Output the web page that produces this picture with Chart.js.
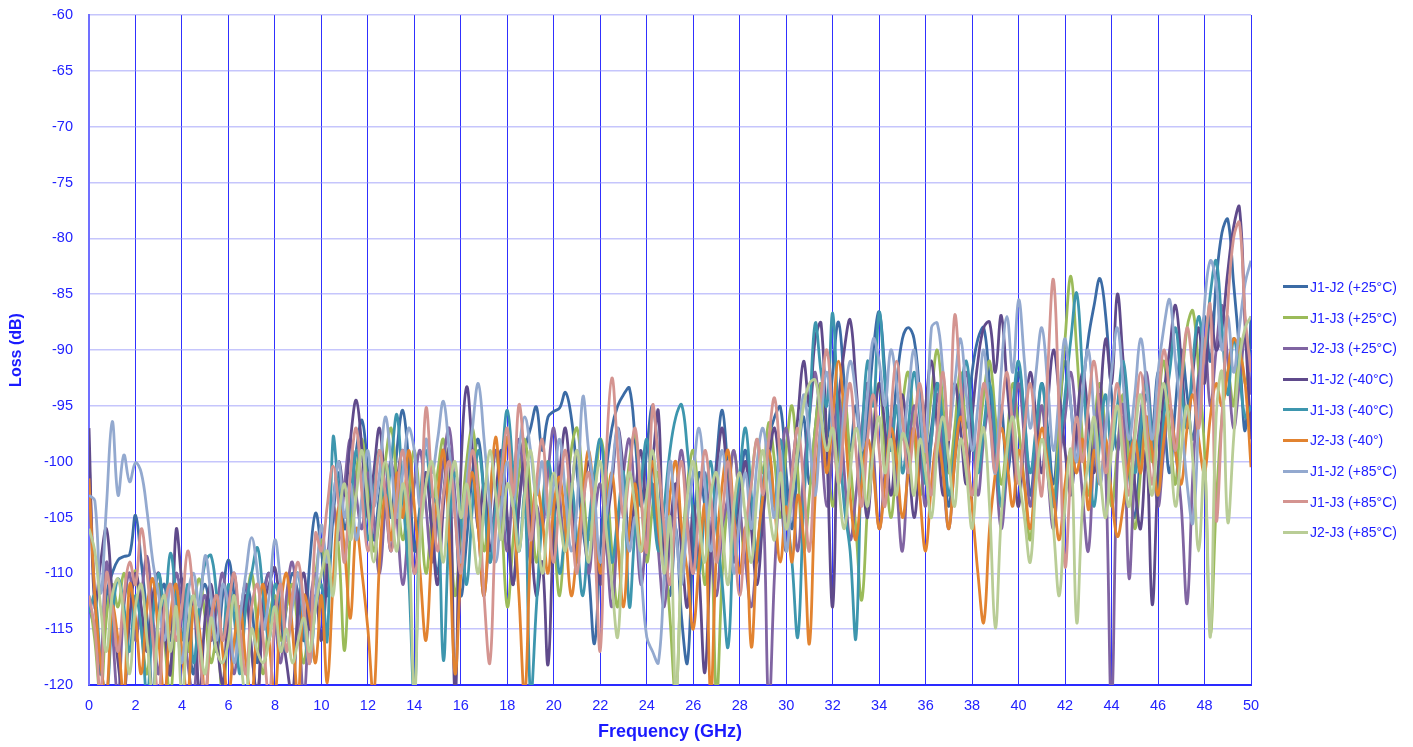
<!DOCTYPE html>
<html>
<head>
<meta charset="utf-8">
<title>Loss vs Frequency</title>
<script src="https://cdn.jsdelivr.net/npm/chart.js@4.4.1/dist/chart.umd.min.js"></script>
<style>
  html, body { margin: 0; padding: 0; background: #fff; }
  #wrap { position: relative; width: 1413px; height: 747px; }
  #legend { position: absolute; left: 1283px; top: 271.6px; font: 14px 'Liberation Sans', Arial, sans-serif; color: #2020ff; }
  #legend .item { height: 30.7px; display: flex; align-items: center; white-space: nowrap; }
  #legend .swatch { width: 25px; height: 3px; margin-right: 2px; }
</style>
</head>
<body>
<div id="wrap">
  <canvas id="lossChart" width="1413" height="747"></canvas>
  <div id="legend"></div>
</div>
<script>
// sweep points, 0.25 GHz apart
var freqs = []
for (var k = 0; k <= 200; k++) freqs.push(k * 0.25)

var seriesNames = ['J1-J2 (+25°C)', 'J1-J3 (+25°C)', 'J2-J3 (+25°C)', 'J1-J2 (-40°C)', 'J1-J3 (-40°C)', 'J2-J3 (-40°)', 'J1-J2 (+85°C)', 'J1-J3 (+85°C)', 'J2-J3 (+85°C)']
var seriesColors = ['#3b6ba5', '#9bbb59', '#8064a2', '#5f4a8b', '#3d96ae', '#e28330', '#93a9cf', '#d49490', '#b9cd96']

var j1j2_25 = [
  -113, -115, -119, -112, -110, -108.8, -108.5, -108.3, -104.8, -109, -114, -121, -113, -111, -116, -112, -110.5, -115, -119, -113,
  -111, -114, -117, -112, -108.8, -112, -115, -111, -113, -118, -112, -110, -114, -117, -113, -110, -112, -116, -109, -104.6,
  -108, -112, -105, -101, -106, -103, -99, -96.3, -101, -107, -103, -100, -105, -99, -95.4, -100, -108, -104, -101, -106,
  -110, -103, -99, -104, -112, -107, -101, -98, -103, -109, -104, -100, -106, -111, -104, -99, -97, -95.1, -99, -96,
  -95.5, -95.2, -93.8, -96, -101, -106, -110, -116.3, -108, -101, -97, -95, -94, -93.4, -98, -104, -99, -95, -100, -108,
  -112, -106, -114, -118, -107, -101, -104, -108, -100, -95.4, -101, -106, -102, -99, -104, -109, -103, -98, -96, -95.1,
  -101, -106, -100, -96, -102, -97, -93, -98, -92, -87.5, -93, -99, -95, -100, -96, -90, -86.6, -92, -98, -93,
  -89, -88, -89, -94, -100, -97, -93, -99, -104, -98, -94, -97, -92, -89, -88, -93, -99, -95, -101, -97,
  -92, -96, -103, -98, -93, -97, -102, -96, -91, -95, -100, -94, -89, -86, -83.6, -87, -94, -99, -96, -101,
  -105, -99, -94, -97, -92, -96, -101, -95, -90, -94, -98, -92, -87, -91, -84, -79.5, -78.3, -84, -90, -97.2,
  -87
]
var j1j3_25 = [
  -112, -116, -121, -114, -111, -113, -110, -112, -109.8, -115, -119, -113, -111, -116, -121, -114, -112, -117, -113, -110.5,
  -114, -118, -116, -121, -115, -112, -117, -113, -110, -115, -119, -114, -112, -116, -113, -111, -115, -118, -113, -110,
  -107, -111, -104, -108, -116.9, -106, -101, -98, -103, -108, -105, -100, -97, -102, -107, -103, -99, -104, -110, -105,
  -101, -98, -104, -112, -106, -100, -97, -102, -108, -103, -99, -105, -113, -107, -101, -98, -103, -109, -104, -100,
  -106, -112, -105, -99, -97, -102, -107, -103, -98, -101, -108, -113, -106, -100, -97.5, -103, -109, -104, -101, -107,
  -114, -121, -109, -102, -99, -104, -111, -106, -121, -110, -103, -99, -104, -109, -102, -98, -101, -96.5, -100, -105,
  -99, -95, -101, -108, -103, -97, -93, -98, -104, -99, -94, -100, -106, -112.4, -104, -97, -93, -99, -105, -100,
  -95, -92, -97, -103, -99, -94, -90, -95, -101, -97, -92, -98, -103, -99, -94, -91, -96, -102, -98, -93,
  -97, -102, -107, -100, -95, -99, -104, -96, -89, -83.4, -90, -98, -103, -97, -93, -98, -104, -99, -94, -100,
  -106, -101, -96, -100, -95, -91, -97, -102, -94, -88, -86.5, -92, -99, -115.3, -104, -96, -92, -95, -89, -93,
  -91
]
var j2j3_25 = [
  -99.5, -112, -118, -109, -115, -121, -113, -110, -116, -112, -108.5, -114, -119, -112, -115, -110, -113, -118, -121, -114,
  -112, -116, -113, -110, -115, -119, -114, -111, -117, -121, -113, -110, -114, -118, -112, -109, -114, -121, -113, -110,
  -113, -109, -104, -107, -102, -98, -103, -106, -101, -105, -110, -104, -100, -105, -111, -106, -102, -99, -104, -109,
  -105, -100, -97, -103, -109, -104, -101, -106, -112, -105, -99, -103, -108, -102, -98, -103, -109, -104, -106, -101,
  -97, -103, -108, -103, -99, -104, -110, -105, -102, -107, -113, -106, -101, -98, -104, -111, -106, -102, -108, -113,
  -107, -103, -99, -105, -110, -104, -101, -107, -112, -106, -103, -99, -104, -109, -113, -108, -104, -122, -110, -101,
  -97, -102, -108, -101, -96, -92, -98, -104, -99, -94, -101, -107, -103, -97, -93, -99, -106, -101, -96, -102,
  -108, -100, -95, -99, -104, -98, -94, -101, -106, -100, -96, -92, -97, -103, -98, -95, -100, -106, -101, -97,
  -93, -98, -104, -99, -95, -101, -106, -100, -96, -92, -97, -103, -108, -99, -94, -101, -122, -100, -95, -110.4,
  -101, -96, -92, -98, -104, -99, -95, -99, -104, -112.7, -101, -93, -89, -95, -90, -86, -91, -97, -93, -89,
  -94
]
var j1j2_m40 = [
  -97, -113, -109, -106, -112, -118, -121, -114, -110, -113, -117, -112, -110, -115, -119, -106.1, -111, -116, -112, -121,
  -114, -111, -116, -120, -113, -110, -115, -112, -117, -121, -113, -111, -109.5, -114, -118, -121, -113, -110, -115, -112,
  -116, -110, -104, -100, -103, -98, -94.5, -99, -105, -101, -97, -103, -108, -102, -99, -104, -110, -105, -101, -106,
  -111, -104, -99, -121, -101, -93.3, -99, -106, -102, -108, -103, -99, -105, -111, -104, -100, -106, -112, -109, -118.2,
  -106, -101, -97, -103, -109, -104, -100, -105, -111, -106, -102, -97, -101, -107, -103, -99, -104, -100, -95.5, -110,
  -106, -102, -108, -113, -104, -110, -118.9, -108, -101, -97, -103, -109, -104, -100, -106, -111, -105, -100, -97, -102,
  -108, -101, -96, -91, -95, -89, -87.6, -99, -113, -95, -90, -87.3, -93, -100, -105, -98, -93, -97, -103, -98,
  -94, -99, -105, -100, -95, -91, -97, -103, -98, -93, -97, -102, -96, -91, -88, -87.5, -92, -86.9, -93, -99,
  -104, -97, -92, -96, -101, -95, -90, -94, -99, -103, -97, -92, -96, -101, -95, -89, -93, -85, -91, -97,
  -102, -106, -99, -112.8, -101, -94, -90, -86, -91, -97, -92, -88, -93, -86.5, -90, -88, -83, -79, -77.2, -88,
  -98
]
var j1j3_m40 = [
  -113.5, -112, -118, -121, -114, -110.5, -113, -117, -112, -115, -121, -114, -110, -113, -108.2, -112, -116, -111, -118, -113,
  -109, -108.4, -112, -116, -111, -114, -119, -113, -110, -107.7, -112, -116, -111, -113, -117, -112, -110, -115, -118, -113,
  -111, -116, -97.9, -103, -108, -104, -99, -102, -107, -103, -99, -104, -100, -95.8, -103, -110, -121, -104, -99, -103,
  -104, -117.8, -106, -101, -105, -111, -104, -99, -103, -109, -104, -100, -95.4, -101, -108, -103, -121, -113, -105, -100,
  -104, -110, -106, -102, -107, -112, -106, -101, -98, -103, -109, -105, -101, -113, -106, -102, -98, -103, -108, -104,
  -99, -96, -94.9, -99, -105, -110, -104, -100, -106, -111, -116.6, -106, -101, -97, -103, -108, -102, -99, -104, -98,
  -104, -109, -115.7, -104, -96, -87.6, -92, -95, -86.7, -97, -104, -108, -115.8, -99, -91, -95, -86.6, -93, -99, -95,
  -101, -97, -92, -96, -102, -98, -93, -97, -103, -99, -94, -91, -96, -101, -97, -93, -98, -104, -100, -95,
  -91, -96, -101, -97, -93, -98, -104, -99, -94, -89, -84.9, -92, -99, -104, -98, -94, -99, -95, -91, -96,
  -101, -97, -93, -98, -103, -96, -92, -88, -93, -97, -91, -87, -90, -85, -82, -88, -94, -89, -92, -96,
  -95
]
var j2j3_m40 = [
  -101.5, -112, -118, -121, -113, -116, -121, -111, -114, -119, -113, -110.5, -116, -121, -114, -111, -117, -121, -113, -115,
  -121, -115, -112, -117, -121, -116, -113, -118, -121, -114, -111, -116, -121, -113, -110, -115, -121, -112, -114, -118,
  -112, -119.8, -111, -104, -108, -114, -106, -110, -115, -121, -109, -103, -107, -101, -105, -99, -104, -110, -116, -108,
  -103, -99, -107, -119, -110, -104, -101, -106, -112, -104, -97.8, -103, -97.8, -104, -112, -121, -108, -102, -105, -110,
  -104, -101.4, -106, -112, -108, -103, -99, -104, -110, -105, -101, -107, -113, -106, -102, -108, -104, -100, -106, -109,
  -103, -100, -106, -110, -115, -109, -104, -121, -108, -102, -99, -105, -110, -106, -116.6, -108, -103, -99, -104, -109,
  -104, -109, -103, -107, -116.3, -103, -97, -101, -96, -91, -96, -103, -107, -102, -98, -101, -106, -102, -97, -100,
  -105, -101, -97, -103, -108, -102, -98, -101, -106, -100, -96, -99, -104, -110, -114.4, -106, -101, -97, -100, -104,
  -99, -102, -106, -101, -97, -100, -103, -107, -102, -99, -101, -98, -104.3, -99, -102, -98, -103, -106.7, -104, -100,
  -98, -101, -96, -99, -103, -98, -95, -99, -102, -97, -94, -98, -101, -96, -93, -95, -92, -89, -90, -93,
  -100.5
]
var j1j2_85 = [
  -103, -103.5, -111.8, -104, -96.4, -103, -99.4, -101.8, -100.1, -101, -104.5, -109, -112, -116, -111, -114, -118, -112, -110, -113,
  -108.4, -112, -116, -111, -113, -118, -114, -110, -106.8, -110, -115, -112, -107, -111, -116, -113, -110, -114, -118, -112,
  -105.7, -109, -104, -100, -105, -102, -107, -103, -99, -104, -101, -96, -100, -105, -101, -97, -99, -104, -98, -101,
  -98, -94.6, -99, -104, -109, -102, -97, -93, -98, -104, -109, -104, -100, -104, -99, -96, -99, -103, -100, -105,
  -102, -98, -103, -108, -104, -94.2, -99, -103, -109, -105, -101, -97, -103, -108, -105, -110, -115.7, -117, -118, -110,
  -100, -106, -111, -105, -101, -97, -102, -108, -103, -99, -104, -110, -105, -101, -106, -100, -97, -101, -105, -99,
  -108, -103, -99, -94, -98, -103, -96, -92, -97, -101, -95, -91, -94, -99, -94, -89, -91, -95, -90, -93,
  -98, -94, -90, -95, -99, -88, -87.6, -92, -97, -93, -89, -94, -99, -95, -90, -96, -101, -92, -87, -92,
  -85.5, -91, -97, -92, -88, -93, -99, -94, -89, -95, -100, -94, -90, -96, -102, -97, -92, -88, -93, -98,
  -94, -89, -93, -98, -92, -88, -85.5, -91, -96, -102, -105.5, -96, -86, -82, -84, -90, -87, -92, -88, -84,
  -82
]
var j1j3_85 = [
  -112, -115, -121, -110, -113, -117, -112, -109, -111, -106, -110, -116, -121, -113, -111, -116, -113, -108, -112, -117,
  -121, -114, -112, -116, -113, -110, -115, -119, -113, -111, -116, -121, -114, -111, -117, -112, -109, -113, -118, -106.4,
  -108, -104, -100.4, -104, -109, -101, -97, -103, -108, -104, -99, -103, -108, -103, -99, -104, -110, -106, -95.2, -102,
  -108, -103, -100, -105, -110, -104, -99, -103, -112, -118, -106, -101, -97, -103, -94.9, -100, -107, -102, -98, -104,
  -109, -103, -99, -105, -110, -104, -101, -107, -116.9, -100, -92.5, -99, -105, -101, -97, -103, -108, -95, -100, -106,
  -111, -104, -100, -106, -110, -104, -99, -103, -109, -105, -100, -106, -112, -106, -102, -98, -103, -98, -94.3, -100,
  -106, -101, -97, -102, -108, -99, -94, -90, -96, -102, -97, -93, -99, -104, -98, -94, -99, -104, -96, -91,
  -96, -101, -97, -93, -98, -103, -97, -92, -98, -86.9, -93, -99, -103, -98, -93, -96, -101, -96, -92, -97,
  -102, -97, -93, -98, -103, -92, -83.7, -96, -109.4, -101, -96, -100, -95, -91, -96, -101, -97, -93, -98, -103,
  -97, -92, -97, -102, -95, -90, -94, -99, -93, -88, -92, -97, -90, -86, -105.2, -96, -86, -80, -78.6, -87,
  -92
]
var j2j3_85 = [
  -106, -108, -113, -117, -112, -110.5, -114, -119, -113, -111, -116, -121, -114, -112, -117, -113, -121, -115, -112, -116,
  -119, -114, -117, -118, -116, -112, -117, -121, -115, -117, -118, -116, -113, -117, -115, -118, -116, -114, -117, -113,
  -110, -108, -112, -105, -102, -107, -103, -99, -104, -109, -104, -100, -104, -108, -102, -106, -121, -107, -102, -100,
  -104, -109, -103, -100, -105, -102, -106, -110, -104, -99, -103, -107, -102, -104, -108, -103, -99, -104, -110, -105,
  -101, -105, -108, -103, -99, -104, -109, -103, -100, -106, -111, -115.7, -106, -101, -104, -108, -103, -99, -104, -110,
  -105, -121, -109, -103, -100, -105, -109, -103, -101, -106, -111, -104, -101, -105, -109, -103, -99, -104, -107, -101,
  -106, -103, -99, -95, -93, -92.7, -96, -99, -97, -102, -106, -101, -97, -100, -104, -99, -96, -101, -98, -103,
  -97.5, -99, -103, -98, -101, -105, -99, -96, -100, -104, -98, -101, -106, -100, -97, -104, -114.9, -105, -99, -96,
  -101, -105, -109, -102, -98, -101, -106, -112, -104, -99, -114.4, -104, -100, -96, -101, -105, -99, -95, -100, -104,
  -98, -94, -99, -103, -97, -93, -98, -104, -99, -95, -100, -108, -100, -115.7, -96, -92, -105.4, -98, -91, -88,
  -87
]

var seriesValues = [j1j2_25, j1j3_25, j2j3_25, j1j2_m40, j1j3_m40, j2j3_m40, j1j2_85, j1j3_85, j2j3_85]

var yTicks = { min: -120, max: -60, step: 5 }
var xTicks = { min: 0, max: 50, step: 2 }

var blue = '#2222ff'
var tickFont = { family: "'Liberation Sans', Arial, sans-serif", size: 14.5 }
var titleFont = { family: "'Liberation Sans', Arial, sans-serif", size: 18, weight: 'bold' }

var datasets = seriesValues.map(function (vals, i) {
  return {
    label: seriesNames[i],
    data: vals.map(function (v, j) { return { x: freqs[j], y: v } }),
    borderColor: seriesColors[i],
    backgroundColor: seriesColors[i],
    borderWidth: 2.8,
    pointRadius: 0,
    tension: 0.4,
    fill: false,
    clip: 0,
    // later series sit on top
    order: seriesValues.length - i
  }
})

var ctx = document.getElementById('lossChart')
var chart = new Chart(ctx, {
  type: 'line',
  data: { datasets: datasets },
  options: {
    responsive: false,
    animation: false,
    layout: { padding: { top: 15, right: 162, left: 0, bottom: 0 } },
    plugins: { legend: { display: false }, tooltip: { enabled: false } },
    scales: {
      x: {
        type: 'linear',
        min: xTicks.min,
        max: xTicks.max,
        afterFit: function (s) { s.height = 62 },
        ticks: { stepSize: xTicks.step, color: blue, font: tickFont, padding: 12, maxRotation: 0 },
        grid: { color: '#3030ff', lineWidth: 1, drawTicks: false },
        border: { color: '#2a2aff', width: 2 },
        title: { display: true, text: 'Frequency (GHz)', color: '#1a1aff', font: titleFont, padding: { top: 4, bottom: 4 } }
      },
      y: {
        min: yTicks.min,
        max: yTicks.max,
        // fixed axis width; the top label may overhang the plot
        afterFit: function (s) { s.width = 89; s.paddingTop = 0; s.paddingBottom = 0 },
        ticks: { stepSize: yTicks.step, color: blue, font: tickFont, padding: 16 },
        grid: { color: 'rgba(140,140,250,0.5)', lineWidth: 1.5, drawTicks: false },
        border: { color: '#7070ff', width: 2 },
        title: { display: true, text: 'Loss (dB)', color: '#1a1aff', font: { family: titleFont.family, size: 16, weight: 'bold' }, padding: { top: 7, bottom: 4 } }
      }
    }
  }
})

// legend on the right
var legend = document.getElementById('legend')
seriesNames.forEach(function (name, i) {
  var row = document.createElement('div')
  row.className = 'item'
  var sw = document.createElement('span')
  sw.className = 'swatch'
  sw.style.background = seriesColors[i]
  var txt = document.createElement('span')
  txt.textContent = name
  row.appendChild(sw)
  row.appendChild(txt)
  legend.appendChild(row)
})
</script>
</body>
</html>
